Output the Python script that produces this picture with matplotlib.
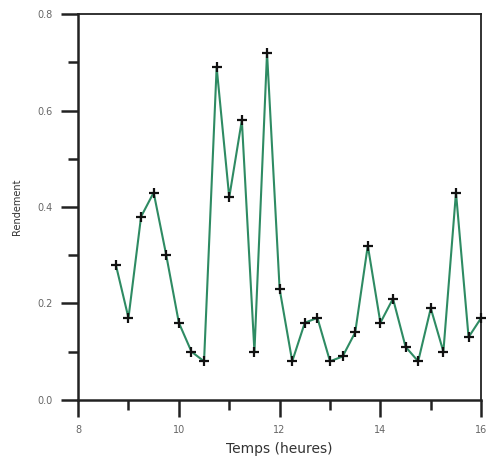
import numpy as np
import matplotlib.pyplot as plt
from matplotlib.ticker import MultipleLocator

# rendement mesure toutes les 15 minutes
temps = [8.75, 9.0, 9.25, 9.5, 9.75, 10.0, 10.25, 10.5, 10.75, 11.0,
         11.25, 11.5, 11.75, 12.0, 12.25, 12.5, 12.75, 13.0, 13.25, 13.5,
         13.75, 14.0, 14.25, 14.5, 14.75, 15.0, 15.25, 15.5, 15.75, 16.0]
rendement = [0.28, 0.17, 0.38, 0.43, 0.30, 0.16, 0.10, 0.08, 0.69, 0.42,
             0.58, 0.10, 0.72, 0.23, 0.08, 0.16, 0.17, 0.08, 0.09, 0.14,
             0.32, 0.16, 0.21, 0.11, 0.08, 0.19, 0.10, 0.43, 0.13, 0.17]

fig = plt.figure(figsize=(4.88, 4.57), dpi=100)
ax = fig.add_axes([0.160, 0.125, 0.826, 0.844])

ax.plot(temps, rendement, color='#2e8b63', lw=1.5, marker='+',
        ms=7, mew=1.6, mec='#111111', clip_on=False, zorder=3)

ax.set_xlim(8, 16)
ax.set_ylim(0, 0.8)
ax.xaxis.set_major_locator(MultipleLocator(2))
ax.xaxis.set_minor_locator(MultipleLocator(1))
ax.yaxis.set_major_locator(MultipleLocator(0.2))
ax.yaxis.set_minor_locator(MultipleLocator(0.1))
ax.set_yticks([0, 0.2, 0.4, 0.6, 0.8], ['0.0', '0.2', '0.4', '0.6', '0.8'])

for s in ax.spines.values():
    s.set_color('#222222')
    s.set_linewidth(1.3)
ax.spines['left'].set_linewidth(1.8)
ax.spines['bottom'].set_linewidth(1.8)

ax.tick_params(which='major', direction='out', length=12, width=1.8,
               color='#222222', labelsize=7, labelcolor='#666666', pad=6)
ax.tick_params(which='minor', direction='out', length=7, width=1.8,
               color='#222222')
ax.tick_params(top=False, right=False, which='both')

ax.set_xlabel('Temps (heures)', fontsize=10, color='#333333', labelpad=5)
ax.set_ylabel('Rendement', fontsize=7, color='#333333', labelpad=11)

fig.savefig('out.png', dpi=100)
